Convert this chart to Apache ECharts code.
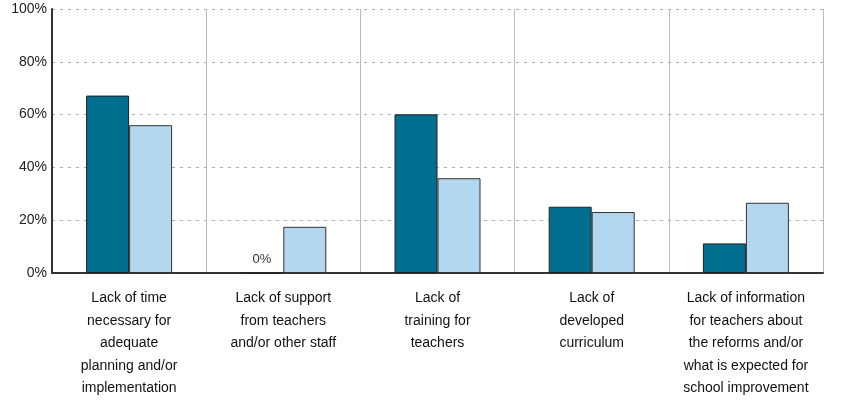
<!DOCTYPE html>
<html>
<head>
<meta charset="utf-8">
<script src="https://cdn.jsdelivr.net/npm/echarts@6/dist/echarts.min.js"></script>
<style>html,body{margin:0;padding:0;background:#fff;}#c{width:849px;height:414px;}</style>
</head>
<body>
<div id="c"></div>
<script>
const categories = [
  "Lack of time\nnecessary for\nadequate\nplanning and/or\nimplementation",
  "Lack of support\nfrom teachers\nand/or other staff",
  "Lack of\ntraining for\nteachers",
  "Lack of\ndeveloped\ncurriculum",
  "Lack of information\nfor teachers about\nthe reforms and/or\nwhat is expected for\nschool improvement"
];
const seriesA = [67.2, 0, 60.1, 25.1, 11.2];
const seriesB = [56.0, 17.5, 35.9, 23.1, 26.6];
const yTicks = [0, 20, 40, 60, 80, 100];

const chart = echarts.init(document.getElementById('c'), null, {renderer: 'canvas'});
const font = 'Liberation Sans, Arial, sans-serif';
chart.setOption({
  animation: false,
  grid: {left: 52, right: 26, top: 9, bottom: 141, containLabel: false},
  xAxis: {
    type: 'category',
    data: categories,
    boundaryGap: true,
    axisLine: {lineStyle: {color: '#333', width: 2}},
    axisTick: {show: false},
    axisLabel: {fontFamily: font, fontSize: 14, color: '#111', lineHeight: 22.5, margin: 14, interval: 0},
    splitLine: {show: true, interval: 0, lineStyle: {color: '#bbb', width: 1}}
  },
  yAxis: {
    type: 'value',
    min: yTicks[0], max: yTicks[yTicks.length - 1], interval: 20,
    axisLine: {show: true, lineStyle: {color: '#333', width: 2}},
    axisTick: {show: false},
    axisLabel: {fontFamily: font, fontSize: 14, color: '#222', margin: 5, formatter: v => v + '%'},
    splitLine: {show: true, lineStyle: {color: '#aaa', type: [3, 5], width: 1}}
  },
  series: [
    {
      type: 'bar', data: seriesA.map(v => v === 0 ? {value: v, label: {show: true}} : v),
      barWidth: 43, barGap: '0%',
      itemStyle: {color: '#006f8f', borderColor: '#222', borderWidth: 1},
      label: {show: false, position: 'top', formatter: '{c}%', fontFamily: font, fontSize: 13, color: '#333', distance: 7}
    },
    {
      type: 'bar', data: seriesB,
      barWidth: 43, barGap: '0%',
      itemStyle: {color: '#b4d7f0', borderColor: '#333', borderWidth: 1}
    }
  ]
});
</script>
</body>
</html>
